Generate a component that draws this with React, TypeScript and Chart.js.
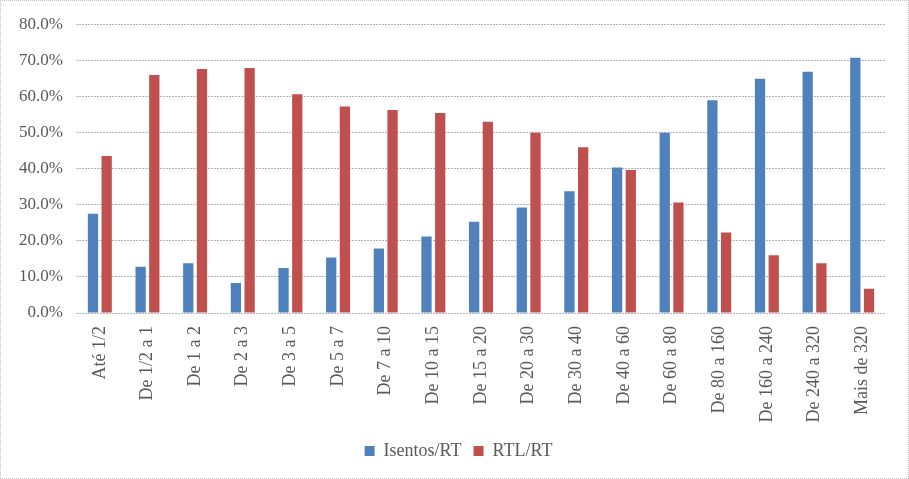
import React, { useEffect, useRef } from "react";
import { Chart, registerables } from "chart.js";

Chart.register(...registerables);

const categories = [
  "Até 1/2", "De 1/2 a 1", "De 1 a 2", "De 2 a 3", "De 3 a 5", "De 5 a 7",
  "De 7 a 10", "De 10 a 15", "De 15 a 20", "De 20 a 30", "De 30 a 40",
  "De 40 a 60", "De 60 a 80", "De 80 a 160", "De 160 a 240", "De 240 a 320",
  "Mais de 320",
];
const isentosRT = [27.5, 12.8, 13.8, 8.3, 12.5, 15.4, 17.9, 21.2, 25.3, 29.2, 33.7, 40.3, 49.9, 58.9, 64.9, 66.8, 70.7];
const rtlRT = [43.5, 65.9, 67.6, 67.9, 60.6, 57.2, 56.2, 55.4, 53.0, 49.9, 45.9, 39.6, 30.6, 22.3, 16.0, 13.8, 6.7];
const seriesNames = ["Isentos/RT", "RTL/RT"];
const yMax = 80;
const yStep = 10;

const FONT = "'Liberation Serif', 'Times New Roman', serif";
const TEXT = "#595959";
const GRID = "#b4b4b4";

const legendShift = {
  id: "legendShift",
  afterLayout(chart: any) {
    const lg = chart.legend;
    if (!lg) return;
    const dx = 15;
    lg.left += dx;
    lg.right += dx;
    if (lg.legendHitBoxes) {
      lg.legendHitBoxes.forEach((h: any) => {
        h.left += dx;
      });
    }
  },
};

export default function App() {
  const ref = useRef<HTMLCanvasElement | null>(null);
  useEffect(() => {
    if (!ref.current) return;
    const chart = new Chart(ref.current, {
      type: "bar",
      data: {
        labels: categories,
        datasets: [
          {
            label: seriesNames[0],
            data: isentosRT,
            backgroundColor: "#4F81BD",
            borderWidth: 0,
            categoryPercentage: 0.575,
            barPercentage: 0.75,
          },
          {
            label: seriesNames[1],
            data: rtlRT,
            backgroundColor: "#C0504D",
            borderWidth: 0,
            categoryPercentage: 0.575,
            barPercentage: 0.75,
          },
        ],
      },
      plugins: [legendShift],
      options: {
        responsive: false,
        animation: false,
        devicePixelRatio: 1,
        layout: { padding: { left: 0, right: 22, top: 22, bottom: 8 } },
        plugins: {
          tooltip: { enabled: false },
          legend: {
            position: "bottom",
            labels: {
              font: { family: FONT, size: 18 },
              color: TEXT,
              boxWidth: 10,
              boxHeight: 10,
              padding: 12,
            },
          },
        },
        scales: {
          x: {
            grid: { display: false },
            border: { display: false },
            ticks: {
              font: { family: FONT, size: 18 },
              color: TEXT,
              minRotation: 90,
              maxRotation: 90,
              padding: 5,
              autoSkip: false,
            },
            afterFit: (s: any) => {
              s.height = 117;
            },
          },
          y: {
            min: 0,
            max: yMax,
            border: { display: false, dash: [2, 1] },
            grid: {
              color: GRID,
              lineWidth: 1,
              drawTicks: false,
            },
            ticks: {
              stepSize: yStep,
              font: { family: FONT, size: 17 },
              color: TEXT,
              padding: 13,
              callback: (v: any) => Number(v).toFixed(1) + "%",
            },
            afterFit: (s: any) => {
              s.width = 75;
            },
          },
        },
      },
    });
    return () => chart.destroy();
  }, []);
  return (
    <div
      style={{
        position: "absolute",
        left: 0,
        top: 0,
        width: 909,
        height: 479,
        boxSizing: "border-box",
        border: "1px dotted #c0c0c0",
        background: "#fff",
      }}
    >
      <canvas ref={ref} width={907} height={477} style={{ display: "block", width: 907, height: 477 }} />
    </div>
  );
}
